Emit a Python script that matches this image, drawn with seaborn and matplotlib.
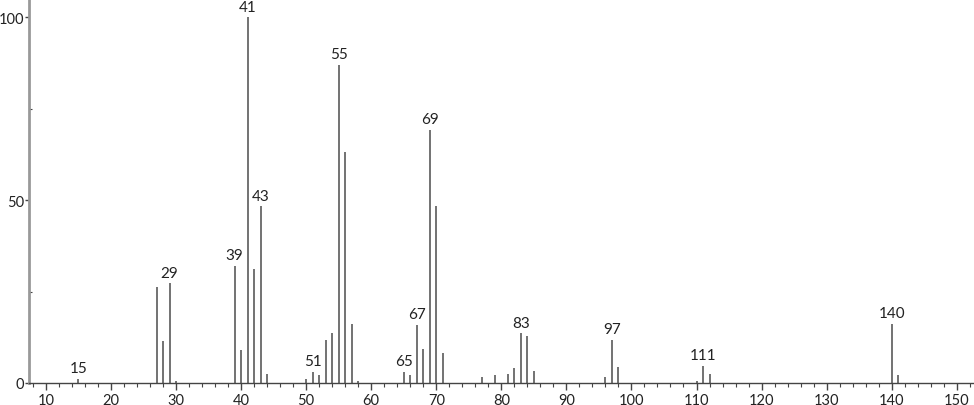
import matplotlib
matplotlib.use("Agg")
import matplotlib.pyplot as plt
from matplotlib.ticker import MultipleLocator
import pandas as pd
import seaborn as sns

# m/z values and relative intensities
mz = [15, 27, 28, 29, 30, 39, 40, 41, 42, 43, 44, 50, 51, 52, 53, 54, 55, 56, 57, 58,
      65, 66, 67, 68, 69, 70, 71, 77, 79, 81, 82, 83, 84, 85, 96, 97, 98,
      110, 111, 112, 140, 141]
intensity = [1.1, 26.2, 11.6, 27.3, 0.6, 32.1, 9.1, 100, 31.2, 48.3, 2.5, 1.1, 3.1, 2.3, 11.8, 13.6, 87.0, 63.1, 16.1, 0.6,
             3.1, 2.3, 15.9, 9.3, 69.2, 48.3, 8.1, 1.7, 2.3, 2.4, 4.1, 13.6, 12.8, 3.4, 1.7, 11.8, 4.4,
             0.5, 4.7, 2.5, 16.1, 2.3]
labelled = [15, 29, 39, 41, 43, 51, 55, 65, 67, 69, 83, 97, 111, 140]

df = pd.DataFrame({"mz": mz, "intensity": intensity})

sns.set_theme(style="ticks")
plt.rcParams['font.family'] = ['Lato', 'DejaVu Sans']

fig = plt.figure(figsize=(9.74, 4.06), dpi=100)
ax = fig.add_axes([29 / 974, 22 / 406, 944 / 974, 384 / 406])

ax.vlines(df["mz"], 0, df["intensity"], color="#5a5a5a", linewidth=1.2)

for m, v in zip(df["mz"], df["intensity"]):
    if m in labelled:
        ax.text(m, v + 1.0, str(m), ha="center", va="bottom", fontsize=11, color="#222222")

ax.set_xlim(7.4, 152.5)
ax.set_ylim(0, 105)
ax.xaxis.set_major_locator(MultipleLocator(10))
ax.xaxis.set_minor_locator(MultipleLocator(2))
ax.yaxis.set_major_locator(MultipleLocator(50))
ax.yaxis.set_minor_locator(MultipleLocator(25))
ax.tick_params(axis="x", which="major", length=5, width=1, color="#444444", labelsize=10.5, labelcolor="#222222", pad=2)
ax.tick_params(axis="y", which="major", length=3, width=1, color="#444444", labelsize=10.5, labelcolor="#222222", pad=0.5)
ax.tick_params(axis="x", which="minor", length=3, width=0.8, color="#444444")
ax.tick_params(axis="y", which="minor", length=2, width=0.8, color="#444444", direction="in")

sns.despine(ax=ax)
ax.spines["left"].set_color("#999999")
ax.spines["left"].set_linewidth(2)
ax.spines["bottom"].set_color("#444444")
ax.spines["bottom"].set_linewidth(1)

fig.savefig("out.png", dpi=100)
